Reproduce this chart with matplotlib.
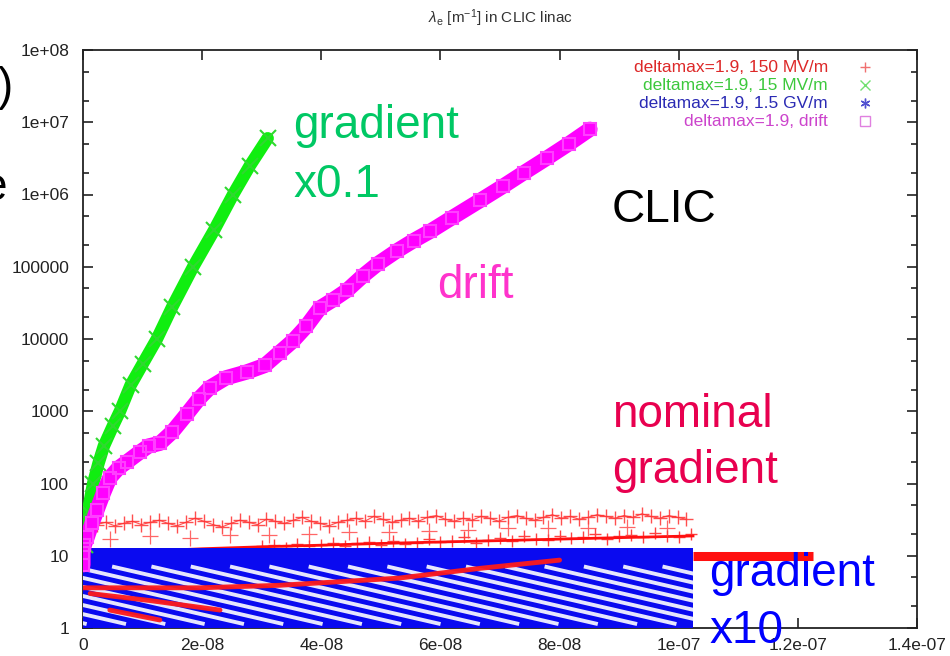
import numpy as np
import matplotlib.pyplot as plt
from matplotlib.patches import Polygon
from matplotlib.ticker import FixedLocator, LogLocator, NullFormatter

plt.rcParams['font.family'] = ['Liberation Sans', 'DejaVu Sans']
plt.rcParams['mathtext.fontset'] = 'custom'
plt.rcParams['mathtext.rm'] = 'Liberation Sans'
plt.rcParams['mathtext.it'] = 'Liberation Sans:italic'

NS = 1e-9  # data below is typed in ns

##################################
## DATA

# deltamax=1.9, 15 MV/m  (gradient x0.1)
green_x_ns = [0.3, 0.8, 1.7, 2.6, 3.5, 5.0, 6.2, 8.0, 10.0, 12.4, 15.0, 18.5, 22.0, 25.2, 28.0, 31.0]
green_y = [14, 40, 100, 190, 330, 620, 1000, 2300, 4500, 1.0e4, 2.8e4, 1e5, 3.2e5, 1e6, 2.5e6, 6e6]

# deltamax=1.9, drift
drift_x_ns = [0.0, 0.0, 0.2, 0.7, 1.5, 2.35, 3.4, 4.5, 6.0, 7.4, 9.5, 11.0, 12.9, 15.0, 17.5,
              19.5, 21.3, 24.0, 27.5, 30.5, 33.0, 35.3, 37.5, 39.8, 42.0, 44.3, 47.0, 49.5,
              52.7, 55.5, 58.3, 62.0, 66.7, 70.5, 74.0, 77.9, 81.5, 85.1]
drift_y = [7.5, 11, 14, 18, 28, 43, 73, 120, 165, 200, 270, 330, 360, 520, 930,
           1500, 2130, 2900, 3500, 4300, 6500, 9500, 1.5e4, 2.7e4, 3.5e4, 4.7e4, 7.5e4, 1.1e5,
           1.66e5, 2.3e5, 3.1e5, 4.8e5, 8.3e5, 1.3e6, 2.0e6, 3.2e6, 5.0e6, 8.0e6]

# deltamax=1.9, 150 MV/m  (nominal) -- upper scattered band
red_band_x_ns = [0.8, 2.3, 3.8, 5.3, 6.8, 8.3, 9.8, 11.3, 12.8, 14.3,
                 15.8, 17.3, 18.8, 20.3, 21.8, 23.3, 24.8, 26.3, 27.8, 29.3,
                 30.8, 32.3, 33.8, 35.3, 36.8, 38.3, 39.8, 41.3, 42.8, 44.3,
                 45.8, 47.3, 48.8, 50.3, 51.8, 53.3, 54.8, 56.3, 57.8, 59.3,
                 60.8, 62.3, 63.8, 65.3, 66.8, 68.3, 69.8, 71.3, 72.8, 74.3,
                 75.8, 77.3, 78.8, 80.3, 81.8, 83.3, 84.8, 86.3, 87.8, 89.3,
                 90.8, 92.3, 93.8, 95.3, 96.8, 98.3, 99.8, 101.3]
red_band_y = [24, 27, 29, 26, 28, 30, 27, 29, 31, 28,
              26, 29, 33, 30, 27, 25, 28, 31, 29, 27,
              32, 30, 28, 31, 34, 30, 28, 26, 29, 31,
              33, 30, 35, 32, 29, 31, 33, 30, 34, 36,
              32, 30, 33, 31, 35, 33, 30, 34, 36, 33,
              31, 34, 37, 33, 35, 32, 34, 37, 35, 33,
              36, 34, 38, 35, 33, 36, 34, 32]
# sparse row below it
red_sparse_x_ns = [4.5, 11.2, 17.9, 24.6, 31.3, 38.0, 44.6, 51.3, 58.0, 64.7, 71.4, 78.1, 84.7, 91.4, 98.1]
red_sparse_y = [17, 18.5, 17.5, 19.5, 19.5, 20, 21, 21.5, 22, 23, 24, 24.5, 24, 25, 24.5]
# slowly rising line and the dense crosses around it
red_line_x_ns = [0, 10, 20, 30, 40, 50, 60, 70, 80, 90, 102.4]
red_line_y = [10, 11.5, 12.5, 13.3, 14, 14.8, 15.5, 16.2, 17, 17.8, 18.8]
red_dense_x_ns = [30, 32, 34, 36, 38, 40, 42, 44, 46, 48, 50, 52, 54, 56, 58, 60, 62, 64, 66,
                  68, 70, 72, 74, 76, 78, 80, 82, 84, 86, 88, 90, 92, 94, 96, 98, 100, 102]
red_dense_y = [13.5, 14, 13, 14.5, 13.8, 14.2, 15, 13.6, 14.8, 15.5, 14.2, 15.8, 14.6, 15, 17,
               15.5, 16, 18, 15, 16.5, 17.5, 16, 18.5, 17, 16.5, 19, 17.5, 18, 20, 17,
               18.5, 19.5, 18, 20.5, 19, 18, 20]
# tail beyond 1e-7
red_tail_x_ns = [102.4, 122.6]
red_tail_y = [9.9, 9.9]
# streaks showing through the blue band
red_streaks = [
    ([0, 19.6, 33, 53, 66.7, 80], [3.6, 3.6, 3.9, 4.9, 6.7, 8.7]),
    ([1.2, 11.2, 23], [3.0, 2.4, 1.77]),
    ([4.5, 12.9], [1.77, 1.29]),
]

# deltamax=1.9, 1.5 GV/m  (gradient x10) -- dense band with diagonal gaps
blue_band_x_ns = [0, 102.4]
blue_band_lo = [1, 1]
blue_band_hi = [12.8, 12.8]
stripe_top_x_ns = [-41, -34.4, -27.8, -21.2, -14.6, -8, -1.4, 5.2, 11.8, 18.4, 25, 31.6,
                   38.2, 44.8, 51.4, 58, 64.6, 71.2, 77.8, 84.4, 91, 97.6]
stripe_run_ns = 41.3
stripe_y = [7.0, 1.15]

# axes ticks
x_ticks = [0, 2e-8, 4e-8, 6e-8, 8e-8, 1e-7, 1.2e-7, 1.4e-7]
x_tick_labels = ['0', '2e-08', '4e-08', '6e-08', '8e-08', '1e-07', '1.2e-07', '1.4e-07']
y_ticks = [1, 10, 100, 1e3, 1e4, 1e5, 1e6, 1e7, 1e8]
y_tick_labels = ['1', '10', '100', '1000', '10000', '100000', '1e+06', '1e+07', '1e+08']

legend_labels = ['deltamax=1.9, 150 MV/m', 'deltamax=1.9, 15 MV/m',
                 'deltamax=1.9, 1.5 GV/m', 'deltamax=1.9, drift']
legend_text_colors = ['#dd2828', '#3cc83c', '#2a2ab4', '#cc44cc']
legend_marker_colors = ['#f07070', '#70e070', '#5050d0', '#e080e0']
legend_markers = ['+', 'x', (6, 2, 0), 's']

## END DATA
##################################

W, H = 950, 656
fig = plt.figure(figsize=(W / 100, H / 100), dpi=100)
ax = fig.add_axes([83 / W, 1 - 628 / H, (917 - 83) / W, (628 - 50) / H])


def fx(px):
    return px / W


def fy(py):
    return 1 - py / H


RED, GREEN, BLUE, MAG = '#ff1010', '#10ee10', '#0a0af0', '#ff00ff'

# red (drawn first, under the blue band)
ax.plot(np.array(red_line_x_ns) * NS, red_line_y, color=RED, lw=2.0, zorder=2)
ax.plot(np.array(red_dense_x_ns) * NS, red_dense_y, ls='none', marker='+', ms=9, mew=1.0,
        color=RED, alpha=0.8, zorder=2)
ax.plot(np.array(red_band_x_ns) * NS, red_band_y, ls='-', lw=0.8, marker='+', ms=10, mew=1.0,
        color='#ff3030', alpha=0.85, zorder=2)
ax.plot(np.array(red_sparse_x_ns) * NS, red_sparse_y, ls='none', marker='+', ms=11, mew=0.9,
        color='#ff4040', alpha=0.8, zorder=2)
ax.plot(np.array(red_tail_x_ns) * NS, red_tail_y, color=RED, lw=6.5, solid_capstyle='butt', zorder=2)

# blue band
bx = np.array(blue_band_x_ns) * NS
ax.fill_between(bx, blue_band_lo, blue_band_hi, color=BLUE, lw=0, zorder=3)
clip_poly = Polygon([[bx[0], blue_band_lo[0]], [bx[1], blue_band_lo[1]],
                     [bx[1], blue_band_hi[1]], [bx[0], blue_band_hi[0]]],
                    closed=True, transform=ax.transData, fill=False, lw=0)
ax.add_patch(clip_poly)
for xs in stripe_top_x_ns:
    ln, = ax.plot([xs * NS, (xs + stripe_run_ns) * NS], stripe_y, color='white', lw=2.8,
                  alpha=0.9, zorder=4)
    ln.set_clip_path(clip_poly)
for sx, sy in red_streaks:
    ax.plot(np.array(sx) * NS, sy, color='#ff1a1a', lw=3.5, alpha=0.95, zorder=5,
            solid_capstyle='round')

# green and magenta on top
ax.plot(np.array(green_x_ns) * NS, green_y, color=GREEN, lw=9, solid_capstyle='round', zorder=6)
ax.plot(np.array(green_x_ns) * NS, green_y, ls='none', marker='x', ms=11, mew=1.5,
        color='#30d830', zorder=6)
ax.plot(np.array(drift_x_ns) * NS, drift_y, color=MAG, lw=11, solid_capstyle='round', zorder=7)
ax.plot(np.array(drift_x_ns) * NS, drift_y, ls='none', marker='s', ms=9, mfc='none', mew=1.5,
        color='#ff40ff', zorder=7)

# axes
ax.set_yscale('log')
ax.set_xlim(0, 1.4e-7)
ax.set_ylim(1, 1e8)
ax.xaxis.set_major_locator(FixedLocator(x_ticks))
ax.set_xticklabels(x_tick_labels)
ax.yaxis.set_major_locator(FixedLocator(y_ticks))
ax.set_yticklabels(y_tick_labels)
ax.yaxis.set_minor_locator(LogLocator(base=10, subs=[2, 5]))
ax.yaxis.set_minor_formatter(NullFormatter())
ax.tick_params(which='both', direction='in', top=True, right=True, colors='#222222',
               labelsize=12.5, width=1.2)
ax.tick_params(which='major', length=7)
ax.tick_params(which='minor', length=4)
ax.tick_params(axis='y', pad=10)
ax.tick_params(axis='x', pad=7)
for s in ax.spines.values():
    s.set_linewidth(1.3)
    s.set_color('#222222')

# title
fig.text(fx(500), fy(18), r'$\lambda_{\mathrm{e}}$ [m$^{\mathrm{-1}}$] in CLIC linac',
         ha='center', va='center', fontsize=11, color='#333333')

# legend (gnuplot style, text right aligned, sample to the right)
for i, lab in enumerate(legend_labels):
    yy = fy(67 + i * 18)
    fig.text(fx(828), yy, lab, ha='right', va='center', fontsize=12.5, color=legend_text_colors[i])
    mk = legend_markers[i]
    ax.plot([fx(865)], [yy], transform=fig.transFigure, ls='none', marker=mk, ms=7, mew=1.0,
            mfc='none', color=legend_marker_colors[i], clip_on=False, zorder=8)

# slide annotations
big = 33
fig.text(fx(293), fy(138), 'gradient', fontsize=big, color='#00c864')
fig.text(fx(293), fy(197), 'x0.1', fontsize=big, color='#00c864')
fig.text(fx(612), fy(222), 'CLIC', fontsize=big, color='black')
fig.text(fx(437), fy(298), 'drift', fontsize=big, color='#ff33cc')
fig.text(fx(612), fy(427), 'nominal', fontsize=big, color='#e8004f')
fig.text(fx(612), fy(483), 'gradient', fontsize=big, color='#e8004f')
fig.text(fx(709), fy(586), 'gradient', fontsize=big, color='#0000ff')
fig.text(fx(709), fy(643), 'x10', fontsize=big, color='#0000ff')
fig.text(fx(-2), fy(100), ')', fontsize=big, color='black')
fig.text(fx(-18), fy(200), 'e', fontsize=big, color='black')

fig.savefig('out.png', dpi=100)
